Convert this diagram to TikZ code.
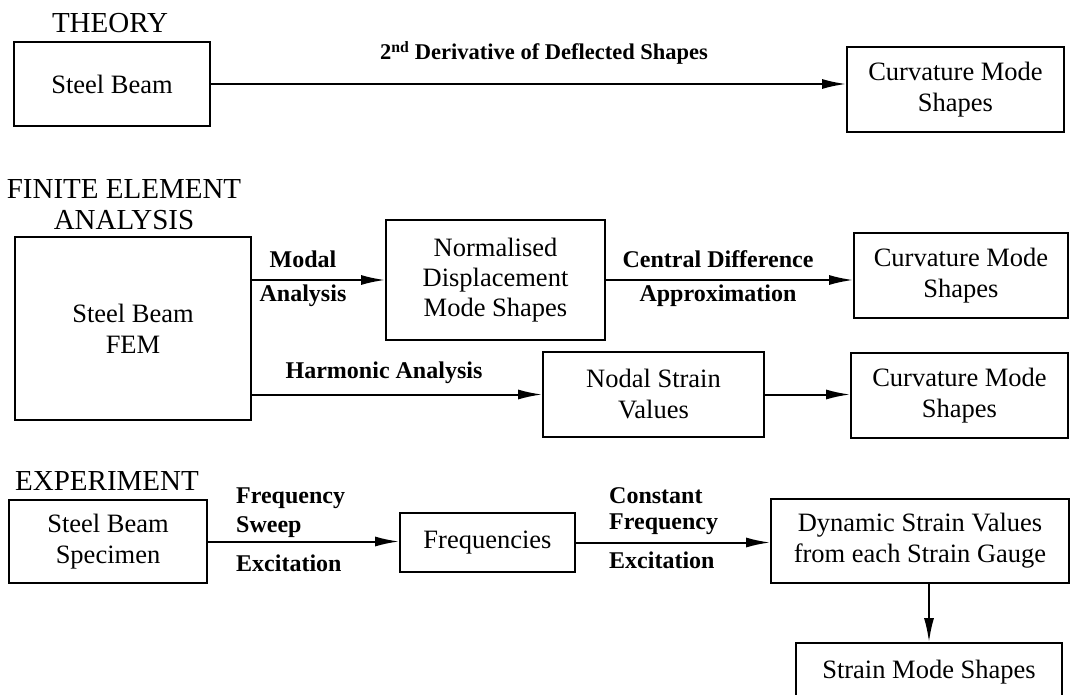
\documentclass[tikz,border=0pt]{standalone}
\usepackage{fontspec}
\setmainfont{Liberation Serif}
\usetikzlibrary{arrows.meta}

\tikzset{
  kasten/.style={draw, line width=1.7pt, inner sep=0pt, align=center,
    font=\fontsize{26.5}{31}\selectfont},
  titel/.style={align=center, font=\fontsize{29}{31}\selectfont},
  beschr/.style={inner sep=0pt, font=\fontsize{24}{27}\selectfont\bfseries},
  pfeil/.style={line width=2pt, -{Latex[length=24pt,width=10pt]}}
}

\begin{document}
\begin{tikzpicture}[x=1pt,y=-1pt]
  \useasboundingbox (0,0) rectangle (1071,695);
  % Theorie
  \node[titel] (theo) at (110,23) {THEORY};
  \node[kasten, minimum width=196pt, minimum height=84pt] (t1) at (112,84) {Steel Beam};
  \node[kasten, minimum width=217pt, minimum height=85pt] (t2) at (955.5,89.5) {Curvature Mode\\Shapes};
  \draw[pfeil] (t1.east) -- (t1.east -| t2.west);
  \node[beschr, font=\fontsize{22.5}{26}\selectfont\bfseries] (abl) at (544,53) {2\textsuperscript{nd} Derivative of Deflected Shapes};
  % Finite Elemente
  \node[titel] (fea) at (124,205) {FINITE ELEMENT\\ANALYSIS};
  \node[kasten, minimum width=236pt, minimum height=183pt] (f1) at (133,328.5) {Steel Beam\\FEM};
  \node[kasten, minimum width=219pt, minimum height=120pt, font=\fontsize{26.5}{30}\selectfont] (f2) at (495.5,280) {Normalised\\Displacement\\Mode Shapes};
  \node[kasten, minimum width=214pt, minimum height=85pt] (f3) at (961,275.5) {Curvature Mode\\Shapes};
  \node[kasten, minimum width=221pt, minimum height=85pt] (f4) at (653.5,394.5) {Nodal Strain\\Values};
  \node[kasten, minimum width=217pt, minimum height=85pt] (f5) at (959.5,395.5) {Curvature Mode\\Shapes};
  \draw[pfeil] (f2.west -| f1.east) -- (f2.west);
  \draw[pfeil] (f2.east) -- (f2.east -| f3.west);
  \draw[pfeil] (f4.west -| f1.east) -- (f4.west);
  \draw[pfeil] (f4.east) -- (f4.east -| f5.west);
  \node[beschr] (mod1) at (303,259) {Modal};
  \node[beschr] (mod2) at (303,296) {Analysis};
  \node[beschr] (zd1) at (718,259) {Central Difference};
  \node[beschr] (zd2) at (718,296) {Approximation};
  \node[beschr] (harm) at (384,373) {Harmonic Analysis};
  % Experiment
  \node[titel] (exp) at (107,481) {EXPERIMENT};
  \node[kasten, minimum width=198pt, minimum height=83pt] (e1) at (108,541.5) {Steel Beam\\Specimen};
  \node[kasten, minimum width=175pt, minimum height=59pt] (e2) at (487.5,542.5) {Frequencies};
  \node[kasten, minimum width=298pt, minimum height=84pt] (e3) at (920,541) {Dynamic Strain Values\\from each Strain Gauge};
  \node[kasten, minimum width=266pt, minimum height=58pt] (e4) at (929,672) {Strain Mode Shapes};
  \draw[pfeil] (e1.east) -- (e1.east -| e2.west);
  \draw[pfeil] (e2.east) -- (e2.east -| e3.west);
  \draw[pfeil] (e4.north |- e3.south) -- (e4.north);
  \node[beschr, anchor=west] (fs1) at (236,498) {Frequency};
  \node[beschr, anchor=west] (fs2) at (236,527) {Sweep};
  \node[beschr, anchor=west] (fs3) at (236,563) {Excitation};
  \node[beschr, anchor=west] (kf1) at (609,496) {Constant};
  \node[beschr, anchor=west] (kf2) at (609,524) {Frequency};
  \node[beschr, anchor=west] (kf3) at (609,560) {Excitation};
\end{tikzpicture}
\end{document}
